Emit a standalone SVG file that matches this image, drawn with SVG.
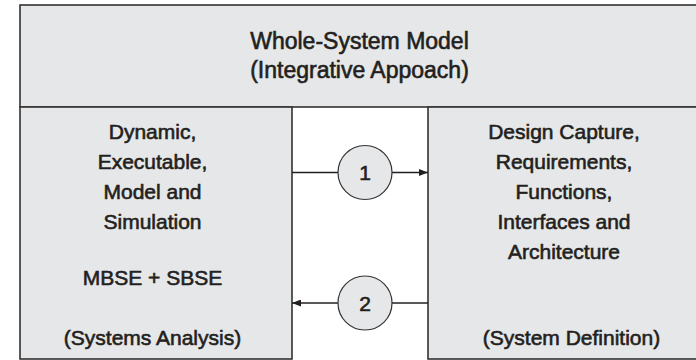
<svg xmlns="http://www.w3.org/2000/svg" width="696" height="360" viewBox="0 0 696 360">
<defs>
<marker id="ah" markerWidth="9" markerHeight="7" refX="9" refY="3.5" orient="auto" markerUnits="userSpaceOnUse">
<path d="M0,0 L9,3.5 L0,7 z" fill="#231f20"/>
</marker>
<style>
.box{fill:#e6e7e8;stroke:#333;stroke-width:1.6}
.t{font-family:"Liberation Sans",Arial,sans-serif;font-size:21px;fill:#231f20;text-anchor:middle;stroke:#231f20;stroke-width:0.6}
.tt{font-size:23px}
.ln{stroke:#231f20;stroke-width:1.3;fill:none}
.c{fill:#e6e7e8;stroke:#333;stroke-width:1.2}
</style>
</defs>
<rect width="696" height="360" fill="#fff"/>
<g id="whole-system">
<rect class="box" x="20" y="5" width="690" height="102"/>
<text class="t tt" x="359.5" y="49">Whole-System Model</text>
<text class="t tt" x="359.5" y="78">(Integrative Appoach)</text>
</g>
<g id="systems-analysis">
<rect class="box" x="20" y="107" width="272" height="252"/>
<text class="t" x="152.5" y="138.5">Dynamic,</text>
<text class="t" x="152.5" y="168.5">Executable,</text>
<text class="t" x="152.5" y="198.5">Model and</text>
<text class="t" x="152.5" y="229">Simulation</text>
<text class="t" x="152.5" y="285">MBSE + SBSE</text>
<text class="t" x="152.5" y="345">(Systems Analysis)</text>
</g>
<g id="system-definition">
<rect class="box" x="428" y="107" width="280" height="252"/>
<text class="t" x="564" y="138.5">Design Capture,</text>
<text class="t" x="564" y="168.5">Requirements,</text>
<text class="t" x="564" y="199">Functions,</text>
<text class="t" x="564" y="228.5">Interfaces and</text>
<text class="t" x="564" y="259">Architecture</text>
<text class="t" x="571.5" y="345">(System Definition)</text>
</g>
<g id="connectors">
<line class="ln" x1="292" y1="172.5" x2="338" y2="172.5"/>
<line class="ln" x1="392" y1="172.5" x2="428" y2="172.5" marker-end="url(#ah)"/>
<line class="ln" x1="428" y1="303" x2="392" y2="303"/>
<line class="ln" x1="338" y1="303" x2="292" y2="303" marker-end="url(#ah)"/>
</g>
<g id="step-1">
<circle class="c" cx="365" cy="172.5" r="27"/>
<text class="t" x="365" y="180">1</text>
</g>
<g id="step-2">
<circle class="c" cx="365" cy="303" r="27"/>
<text class="t" x="365" y="310.5">2</text>
</g>
</svg>
